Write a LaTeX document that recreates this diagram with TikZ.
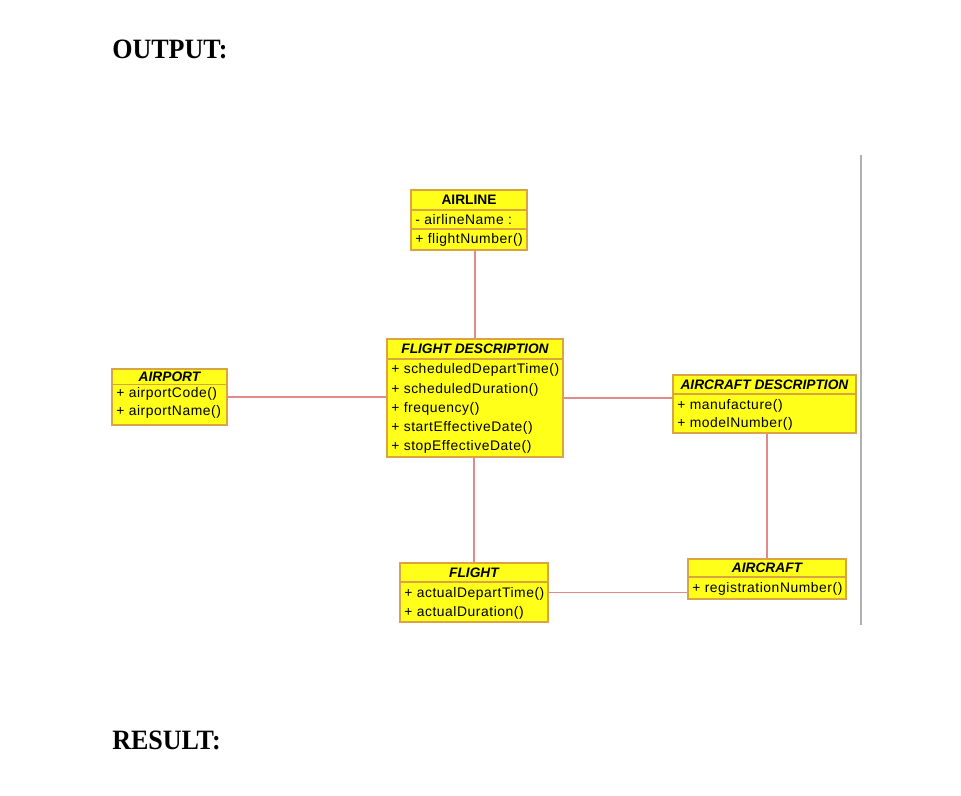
\documentclass[tikz,border=0pt]{standalone}
\usepackage{fontspec}
\setmainfont{Liberation Serif}
\newfontfamily\boxfont{Liberation Sans}
\newfontfamily\itemfont[LetterSpace=4]{Liberation Sans}
\usetikzlibrary{fit}
\definecolor{boxfill}{HTML}{FFFF1A}
\definecolor{boxline}{HTML}{D9A441}
\definecolor{conn}{HTML}{E08A8A}
\definecolor{rulegray}{HTML}{B0B0B0}
\tikzset{
  classbox/.style={draw=boxline, fill=boxfill, line width=1pt, inner sep=0pt},
  divider/.style={draw=boxline, line width=1pt},
  hdr/.style={font=\boxfont\bfseries\itshape\fontsize{10.3}{12}\selectfont, inner sep=0pt},
  hdrup/.style={font=\boxfont\bfseries\fontsize{10.3}{12}\selectfont, inner sep=0pt},
  item/.style={font=\itemfont\fontsize{10.4}{12}\selectfont, anchor=west, inner sep=0pt},
  assoc/.style={draw=conn, line width=0.9pt},
  heading/.style={font=\bfseries\fontsize{21}{24}\selectfont, anchor=base west, inner sep=0pt}
}
\begin{document}
\begin{tikzpicture}[x=0.75pt,y=-0.75pt]
\useasboundingbox (0,0) rectangle (961,796);
\fill[white] (0,0) rectangle (961,796);

\node[heading] (out) at (112,58) {\scalebox{0.93}[1]{OUTPUT:}};
\node[heading] (res) at (112,749) {\scalebox{0.93}[1]{RESULT:}};

\draw[rulegray, line width=1.5pt] (861,155) -- (861,625);

% AIRLINE
\node[classbox, fit={(411,190) (527,250)}] (airline) {};
\draw[divider] (411,210) -- (527,210);
\draw[divider] (411,229) -- (527,229);
\node[hdrup] (airlineT) at (469,200) {AIRLINE};
\node[item] (airline1) at (415,219.5) {- airlineName :};
\node[item] (airline2) at (415,239.5) {+ flightNumber()};

% FLIGHT DESCRIPTION
\node[classbox, fit={(387,339) (563,457)}] (fd) {};
\draw[divider] (387,359) -- (563,359);
\node[hdr] (fdT) at (475,349) {FLIGHT DESCRIPTION};
\node[item] (fd1) at (391,370) {+ scheduledDepartTime()};
\node[item] (fd2) at (391,389.5) {+ scheduledDuration()};
\node[item] (fd3) at (391,408.5) {+ frequency()};
\node[item] (fd4) at (391,428) {+ startEffectiveDate()};
\node[item] (fd5) at (391,447) {+ stopEffectiveDate()};

% AIRPORT
\node[classbox, fit={(112,369) (227,425)}] (airport) {};
\draw[divider] (112,384.5) -- (227,384.5);
\node[hdr] (airportT) at (169.5,376.5) {AIRPORT};
\node[item] (airport1) at (116,394) {+ airportCode()};
\node[item] (airport2) at (116,412) {+ airportName()};

% AIRCRAFT DESCRIPTION
\node[classbox, fit={(673,375) (856,433)}] (ad) {};
\draw[divider] (673,394) -- (856,394);
\node[hdr] (adT) at (764.5,384.5) {AIRCRAFT DESCRIPTION};
\node[item] (ad1) at (677,406) {+ manufacture()};
\node[item] (ad2) at (677,424) {+ modelNumber()};

% FLIGHT
\node[classbox, fit={(400,563) (548,622)}] (flight) {};
\draw[divider] (400,582) -- (548,582);
\node[hdr] (flightT) at (474,572.5) {FLIGHT};
\node[item] (flight1) at (404,594) {+ actualDepartTime()};
\node[item] (flight2) at (404,612.5) {+ actualDuration()};

% AIRCRAFT
\node[classbox, fit={(688,559) (846,599)}] (ac) {};
\draw[divider] (688,577) -- (846,577);
\node[hdr] (acT) at (767,568) {AIRCRAFT};
\node[item] (ac1) at (692,589) {+ registrationNumber()};

% associations
\draw[assoc] (fd.north) -- (fd.north |- airline.south);
\draw[assoc] (airport.east) -- (airport.east -| fd.west);
\draw[assoc] (fd.east) -- (fd.east -| ad.west);
\draw[assoc] (flight.north) -- (flight.north |- fd.south);
\draw[assoc] (ac.north) -- (ac.north |- ad.south);
\draw[assoc] (flight.east) -- (flight.east -| ac.west);
\end{tikzpicture}
\end{document}
